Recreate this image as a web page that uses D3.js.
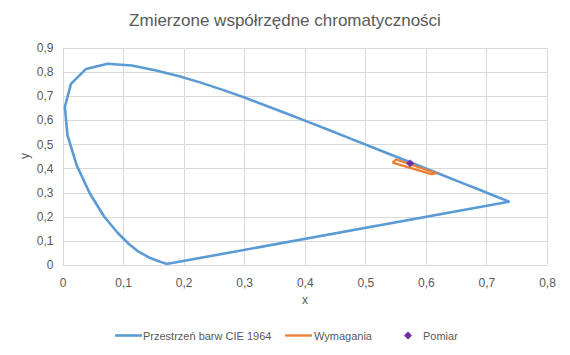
<!DOCTYPE html>
<html><head><meta charset="utf-8">
<script src="https://cdn.jsdelivr.net/npm/d3@7"></script>
<style>body{margin:0;background:#fff}svg{display:block}text{font-family:"Liberation Sans",Arial,sans-serif;fill:#595959}</style>
</head><body><svg id="c" width="570" height="355"></svg>
<script>
// CIE 1964 locus (x, y)
const locusX = [0.1741,0.1733,0.1714,0.1644,0.1566,0.1440,0.1241,0.1096,0.0913,0.0687,0.0454,0.0235,0.0082,0.0039,0.0139,0.0389,0.0743,0.1142,0.1547,0.1929,0.2296,0.2658,0.3016,0.3373,0.3731,0.4087,0.4441,0.4788,0.5125,0.5448,0.5752,0.6029,0.6270,0.6482,0.6658,0.6801,0.6915,0.7006,0.7079,0.7190,0.7260,0.7300,0.7334,0.7370,0.1741];
const locusY = [0.0050,0.0048,0.0051,0.0109,0.0177,0.0297,0.0578,0.0868,0.1327,0.2007,0.2950,0.4127,0.5384,0.6548,0.7502,0.8120,0.8338,0.8262,0.8059,0.7816,0.7543,0.7243,0.6923,0.6589,0.6245,0.5896,0.5547,0.5202,0.4866,0.4544,0.4242,0.3965,0.3725,0.3514,0.3340,0.3197,0.3083,0.2993,0.2920,0.2809,0.2740,0.2700,0.2666,0.2620,0.0050];
// Requirement region
const reqX = [0.545,0.551,0.617,0.609,0.545];
const reqY = [0.424,0.437,0.380,0.376,0.424];
// Measurement
const measX = [0.574];
const measY = [0.421];
const xTicks = [0,0.1,0.2,0.3,0.4,0.5,0.6,0.7,0.8];
const yTicks = [0,0.1,0.2,0.3,0.4,0.5,0.6,0.7,0.8,0.9];
const title = "Zmierzone współrzędne chromatyczności";
const seriesNames = ["Przestrzeń barw CIE 1964","Wymagania","Pomiar"];
const colors = ["#5B9BD5","#ED7D31","#7030A0"];

const svg = d3.select("#c");
const x = d3.scaleLinear().domain([0,0.8]).range([62.5,547]);
const y = d3.scaleLinear().domain([0,0.9]).range([265,47.7]);
const fmt = d => d===0 ? "0" : d3.format(".1f")(d).replace(".",",");

// grid
svg.append("g").selectAll("line").data(yTicks).join("line")
  .attr("x1",x(0)).attr("x2",x(0.8)).attr("y1",d=>Math.round(y(d))+0.5).attr("y2",d=>Math.round(y(d))+0.5)
  .attr("stroke","#d9d9d9").attr("stroke-width",1);
svg.append("g").selectAll("line").data(xTicks).join("line")
  .attr("y1",y(0)).attr("y2",y(0.9)).attr("x1",d=>Math.round(x(d))+0.5).attr("x2",d=>Math.round(x(d))+0.5)
  .attr("stroke","#d9d9d9").attr("stroke-width",1);

// axes labels
const xa = svg.append("g").attr("transform",`translate(0,${y(0)})`).call(d3.axisBottom(x).tickValues(xTicks).tickFormat(fmt).tickSize(0).tickPadding(13));
xa.select(".domain").remove();
xa.selectAll("text").style("font-size","12px").attr("fill","#595959").style("font-family","Liberation Sans, Arial, sans-serif");
const ya = svg.append("g").attr("transform",`translate(${x(0)},0)`).call(d3.axisLeft(y).tickValues(yTicks).tickFormat(fmt).tickSize(0).tickPadding(9));
ya.select(".domain").remove();
ya.selectAll("text").style("font-size","12px").attr("fill","#595959").style("font-family","Liberation Sans, Arial, sans-serif");

// titles
svg.append("text").attr("x",285).attr("y",26).attr("text-anchor","middle").style("font-size","17px").text(title);
svg.append("text").attr("x",305).attr("y",304).attr("text-anchor","middle").style("font-size","12px").text("x");
svg.append("text").attr("transform","translate(29,156) rotate(-90)").attr("text-anchor","middle").style("font-size","12px").text("y");

// series
const line = d3.line().x(d=>x(d[0])).y(d=>y(d[1]));
svg.append("path").datum(d3.zip(locusX,locusY)).attr("d",line).attr("fill","none")
  .attr("stroke",colors[0]).attr("stroke-width",2.6).attr("stroke-linejoin","round");
svg.append("path").datum(d3.zip(reqX,reqY)).attr("d",line).attr("fill","none")
  .attr("stroke",colors[1]).attr("stroke-width",2.3).attr("stroke-linejoin","round");
const sym = d3.symbol().type(d3.symbolDiamond2).size(40);
svg.append("g").selectAll("path").data(d3.zip(measX,measY)).join("path")
  .attr("transform",d=>`translate(${x(d[0])},${y(d[1])})`).attr("d",sym).attr("fill",colors[2]);

// legend
const lg = svg.append("g");
const ly = 335.5;
lg.append("line").attr("x1",115).attr("x2",142).attr("y1",ly).attr("y2",ly).attr("stroke",colors[0]).attr("stroke-width",2.6);
lg.append("text").attr("x",143).attr("y",ly+4).style("font-size","11px").text(seriesNames[0]);
lg.append("line").attr("x1",285).attr("x2",312).attr("y1",ly).attr("y2",ly).attr("stroke",colors[1]).attr("stroke-width",2.3);
lg.append("text").attr("x",314).attr("y",ly+4).style("font-size","11px").text(seriesNames[1]);
lg.append("path").attr("transform",`translate(408,${ly})`).attr("d",sym).attr("fill",colors[2]);
lg.append("text").attr("x",423).attr("y",ly+4).style("font-size","11px").text(seriesNames[2]);
</script></body></html>
